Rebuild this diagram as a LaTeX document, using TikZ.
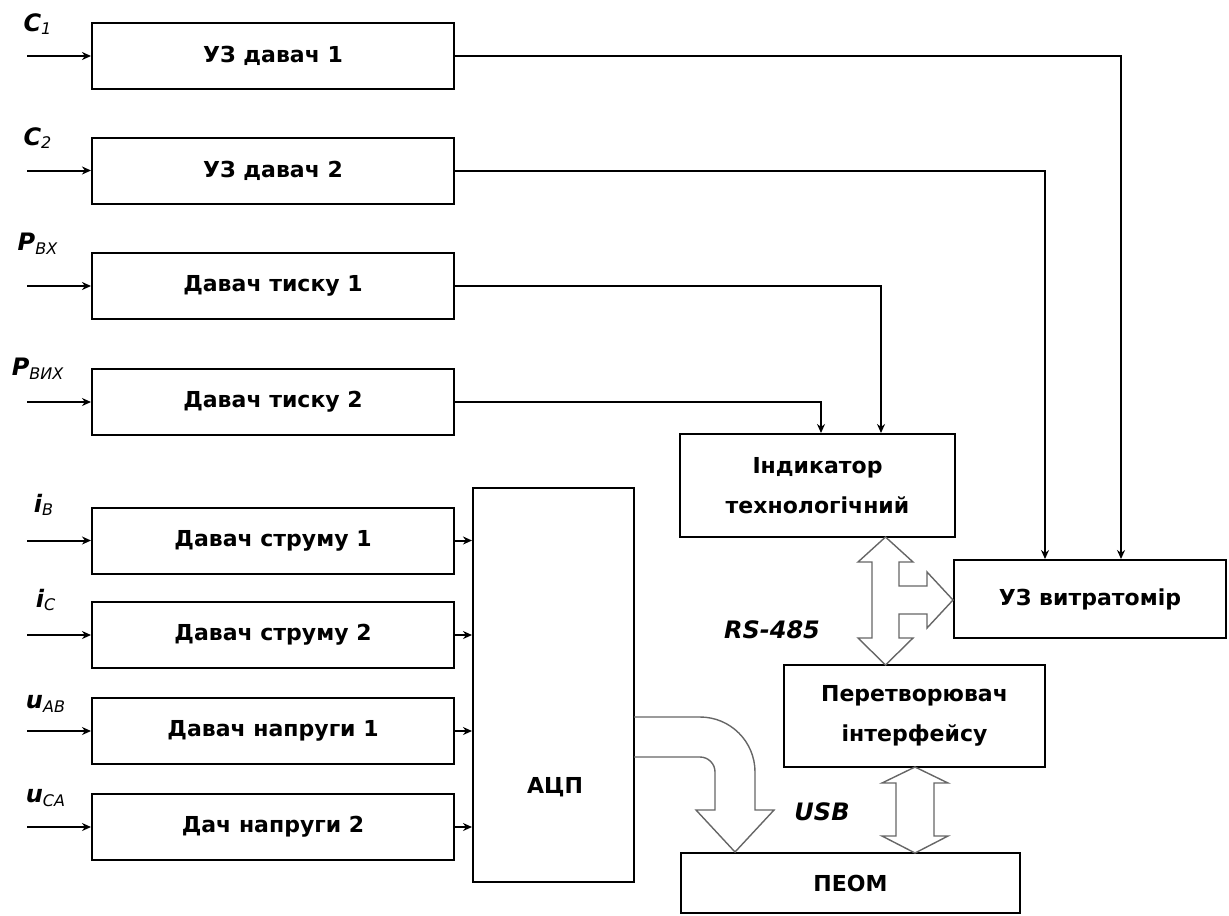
\documentclass[tikz,border=0pt]{standalone}
\usepackage{fontspec}
\setmainfont{DejaVu Sans}
\usetikzlibrary{arrows.meta, positioning}

\newcommand{\sbs}[1]{\textsubscript{\mdseries #1}}

\begin{document}
\begin{tikzpicture}[
        x=0.5pt, y=-0.5pt,
        line width=1pt,
        block/.style={rectangle, draw, inner sep=0pt, align=center,
            font=\bfseries\fontsize{11}{20}\selectfont},
        sensor/.style={block, minimum width=181pt, minimum height=33pt},
        caption/.style={font=\bfseries\fontsize{11}{20}\selectfont},
        signal/.style={font=\bfseries\itshape\fontsize{12}{12}\selectfont, inner sep=0pt},
        bus/.style={draw=black!60, line width=0.7pt},
        >={Stealth[length=4.5pt, width=4pt]}
    ]
    \useasboundingbox (0,0) rectangle (1229,915);

    % sensors
    \node[sensor] (s1) at (273,56) {УЗ давач 1};
    \node[sensor] (s2) at (273,170.5) {УЗ давач 2};
    \node[sensor] (s3) at (273,286) {Давач тиску 1};
    \node[sensor] (s4) at (273,402) {Давач тиску 2};
    \node[sensor] (s5) at (273,540.5) {Давач струму 1};
    \node[sensor] (s6) at (273,635) {Давач струму 2};
    \node[sensor] (s7) at (273,731) {Давач напруги 1};
    \node[sensor] (s8) at (273,827) {Дач напруги 2};

    % input signals
    \node[signal] (c1) at (38,24) {C\sbs{1}};
    \node[signal] (c2) at (38,138) {C\sbs{2}};
    \node[signal] (pin) at (38,244) {P\sbs{ВХ}};
    \node[signal] (pout) at (38,369) {P\sbs{ВИХ}};
    \node[signal] (ib) at (44,505) {i\sbs{В}};
    \node[signal] (ic) at (46,600) {i\sbs{C}};
    \node[signal] (uab) at (46,704) {u\sbs{AB}};
    \node[signal] (uca) at (46,798) {u\sbs{CA}};

    \foreach \s in {s1,s2,s3,s4,s5,s6,s7,s8}
        \draw[->] ([xshift=-32pt]\s.west) -- (\s.west);

    % other blocks
    \node[block, minimum width=80.5pt, minimum height=197pt] (adc) at (553.5,685) {};
    \node[caption] (adctext) at (555,787) {АЦП};
    \node[block, minimum width=137.5pt, minimum height=51.5pt] (ind) at (817.5,485.5)
        {Індикатор\\технологічний};
    \node[block, minimum width=136pt, minimum height=39pt] (flow) at (1090,599) {УЗ витратомір};
    \node[block, minimum width=130.5pt, minimum height=51pt] (conv) at (914.5,716)
        {Перетворювач\\інтерфейсу};
    \node[block, minimum width=169.5pt, minimum height=30pt] (pc) at (850.5,883) {ПЕОМ};

    % signal lines
    \draw[->] (s1.east) -| ([xshift=15.5pt]flow.north);
    \draw[->] (s2.east) -| ([xshift=-22.5pt]flow.north);
    \draw[->] (s3.east) -| ([xshift=31.75pt]ind.north);
    \draw[->] (s4.east) -| ([xshift=1.75pt]ind.north);
    \draw[->] (s5.east) -- (s5.east -| adc.west);
    \draw[->] (s6.east) -- (s6.east -| adc.west);
    \draw[->] (s7.east) -- (s7.east -| adc.west);
    \draw[->] (s8.east) -- (s8.east -| adc.west);

    % RS-485 bus
    \draw[bus] (885.5,537) -- (913,562) -- (899,562) -- (899,586) -- (927,586)
        -- (927,572) -- (953,600) -- (927,628) -- (927,614) -- (899,614)
        -- (899,638) -- (913,638) -- (885.5,665) -- (858,638) -- (872,638)
        -- (872,562) -- (858,562) -- cycle;
    \node[signal] (rs) at (772,630) {RS-485};

    % USB bus
    \draw[bus] (915,767) -- (948,783) -- (934,783) -- (934,836) -- (948,836)
        -- (915,853) -- (882,836) -- (896,836) -- (896,783) -- (882,783) -- cycle;
    \node[signal] (usb) at (822,812) {USB};

    % ADC to PC
    \draw[bus] (634,717) -- (700,717) .. controls (730.4,717) and (755,741.6) .. (755,772)
        -- (755,810) -- (774,810) -- (735,852) -- (696,810) -- (715,810) -- (715,772)
        .. controls (715,763.7) and (708.3,757) .. (700,757) -- (634,757);

\end{tikzpicture}
\end{document}
